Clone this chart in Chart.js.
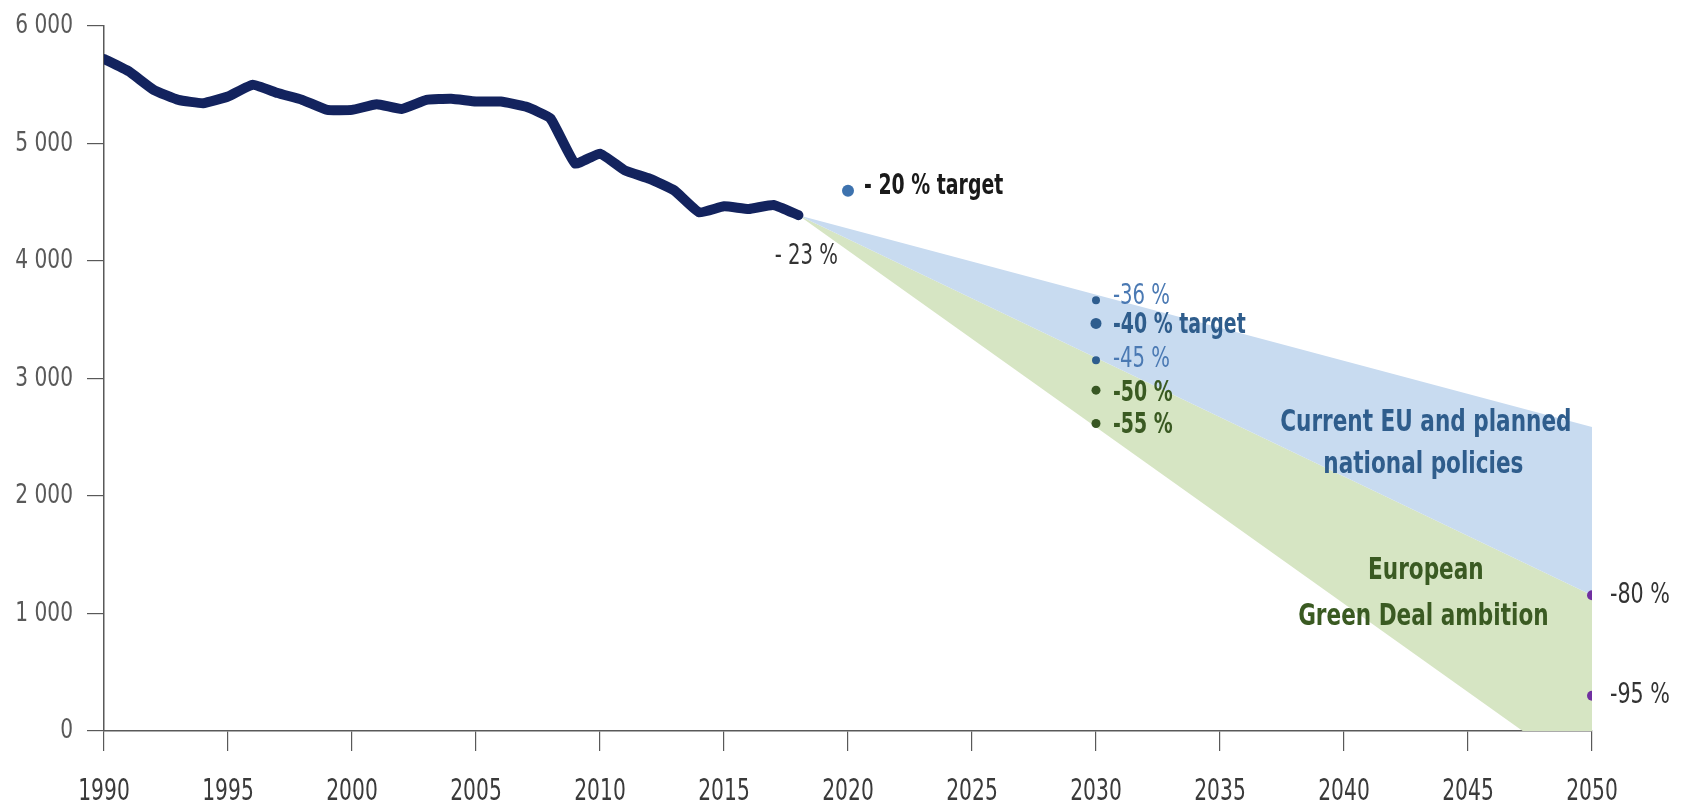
<!DOCTYPE html>
<html>
<head>
<meta charset="utf-8">
<script src="https://cdn.jsdelivr.net/npm/chart.js@4/dist/chart.umd.min.js"></script>
<style>
    body { margin: 0; background: #fff; }
    #chart { display: block; }
</style>
</head>
<body>
<canvas id="chart" width="1684" height="810"></canvas>
<script>
// Historic emissions (Mt CO2-eq)
const years = [1990, 1991, 1992, 1993, 1994, 1995, 1996, 1997, 1998, 1999, 2000, 2001, 2002, 2003, 2004,
    2005, 2006, 2007, 2008, 2009, 2010, 2011, 2012, 2013, 2014, 2015, 2016, 2017, 2018];
const emissions = [5720, 5614, 5457, 5371, 5343, 5400, 5500, 5429, 5371, 5286, 5286, 5334, 5294, 5371, 5380,
    5357, 5357, 5314, 5214, 4829, 4914, 4771, 4700, 4600, 4414, 4466, 4443, 4477, 4390];

// Projection bands
const bandYears = [2018, 2050];
const upperBand = [4390, 2587];
const midBand = [4390, 1155];
const lowerBand = [4390, -420];

// Target markers
const targetYears = [2020, 2030, 2030, 2030, 2030, 2030, 2050, 2050];
const targetValues = [4598, 3667, 3469, 3156, 2901, 2617, 1155, 300];
const targetLabels = ['- 20 % target', '-36 %', '-40 % target', '-45 %', '-50 %', '-55 %', '-80 %', '-95 %'];

const xTicks = [1990, 1995, 2000, 2005, 2010, 2015, 2020, 2025, 2030, 2035, 2040, 2045, 2050];
const yTicks = [0, 1000, 2000, 3000, 4000, 5000, 6000];

// no narrow font installed, so text gets squeezed horizontally when drawn
const FONT = '"DejaVu Sans Condensed", "DejaVu Sans", sans-serif';
const BLUE_TXT = '#2f5d8c';
const LIGHT_BLUE_TXT = '#4a79b3';
const GREEN_TXT = '#3a5a22';

// styling per target marker
const targetStyle = [
    { color: '#3d72ae', r: 6, txt: '#1a1a1a', bold: true, dx: 16, dy: -4, sx: 0.75 },
    { color: '#2e5d8e', r: 4, txt: LIGHT_BLUE_TXT, bold: false, dx: 17, dy: -3, sx: 0.78 },
    { color: '#2e5d8e', r: 5.5, txt: BLUE_TXT, bold: true, dx: 17, dy: 2, sx: 0.75 },
    { color: '#2e5d8e', r: 4, txt: LIGHT_BLUE_TXT, bold: false, dx: 17, dy: 0, sx: 0.78 },
    { color: '#385723', r: 4.5, txt: GREEN_TXT, bold: true, dx: 17, dy: 4, sx: 0.75 },
    { color: '#385723', r: 4.5, txt: GREEN_TXT, bold: true, dx: 17, dy: 2, sx: 0.75 },
    { color: '#7030a0', r: 5, txt: '#333', bold: false, dx: 18, dy: 0, sx: 0.82 },
    { color: '#7030a0', r: 5, txt: '#333', bold: false, dx: 18, dy: 0, sx: 0.82 }
];

// band captions, placed in data coordinates
const bandNotes = [
    { text: 'Current EU and planned', x: 2043.3, y: 2620, color: BLUE_TXT },
    { text: 'national policies', x: 2043.2, y: 2262, color: BLUE_TXT },
    { text: 'European', x: 2043.3, y: 1363, color: GREEN_TXT },
    { text: 'Green Deal ambition', x: 2043.2, y: 965, color: GREEN_TXT }
];

const toPoints = (xs, ys) => xs.map((x, i) => ({ x: x, y: ys[i] }));

function squeezeText(ctx, text, px, py, align, sx) {
    ctx.save();
    ctx.translate(px, py);
    ctx.scale(sx, 1);
    ctx.textAlign = align;
    ctx.fillText(text, 0, 0);
    ctx.restore();
}

const labelPlugin = {
    id: 'labelPlugin',
    afterDraw(chart) {
        const { ctx, scales: { x, y } } = chart;
        ctx.save();
        ctx.textBaseline = 'middle';

        // axis labels
        ctx.font = '27px ' + FONT;
        ctx.fillStyle = '#595959';
        yTicks.forEach(v => {
            const txt = v === 0 ? '0' : (v / 1000) + ' 000';
            squeezeText(ctx, txt, 73, y.getPixelForValue(v), 'right', 0.83);
        });
        ctx.font = '30px ' + FONT;
        ctx.fillStyle = '#3a3a3a';
        xTicks.forEach(v => {
            squeezeText(ctx, String(v), x.getPixelForValue(v), 792, 'center', 0.75);
        });

        // -23 % next to the end of the historic line
        const lastIdx = years.length - 1;
        ctx.font = '28px ' + FONT;
        ctx.fillStyle = '#333';
        squeezeText(ctx, '- 23 %', x.getPixelForValue(years[lastIdx]) + 8, y.getPixelForValue(emissions[lastIdx]) + 42, 'center', 0.78);

        targetLabels.forEach((label, i) => {
            const s = targetStyle[i];
            ctx.font = (s.bold ? 'bold ' : '') + '28px ' + FONT;
            ctx.fillStyle = s.txt;
            squeezeText(ctx, label, x.getPixelForValue(targetYears[i]) + s.dx, y.getPixelForValue(targetValues[i]) + s.dy, 'left', s.sx);
        });

        ctx.font = 'bold 30px ' + FONT;
        bandNotes.forEach(n => {
            ctx.fillStyle = n.color;
            squeezeText(ctx, n.text, x.getPixelForValue(n.x), y.getPixelForValue(n.y), 'center', 0.8);
        });
        ctx.restore();
    }
};

new Chart(document.getElementById('chart'), {
    type: 'line',
    data: {
        datasets: [
            {
                label: 'Targets',
                data: toPoints(targetYears, targetValues),
                showLine: false,
                pointRadius: targetStyle.map(s => s.r),
                pointBackgroundColor: targetStyle.map(s => s.color),
                pointBorderWidth: 0,
                order: 0
            },
            {
                label: 'Emissions',
                data: toPoints(years, emissions),
                borderColor: '#13235e',
                borderWidth: 10,
                borderCapStyle: 'round',
                borderJoinStyle: 'round',
                tension: 0.12,
                pointRadius: 0,
                fill: false,
                order: 1
            },
            {
                label: 'mid',
                data: toPoints(bandYears, midBand),
                borderWidth: 0,
                pointRadius: 0,
                fill: false,
                order: 2
            },
            {
                label: 'Current EU and planned national policies',
                data: toPoints(bandYears, upperBand),
                borderWidth: 0,
                pointRadius: 0,
                backgroundColor: '#c8dbf0',
                fill: 2,
                order: 3
            },
            {
                label: 'European Green Deal ambition',
                data: toPoints(bandYears, lowerBand),
                borderWidth: 0,
                pointRadius: 0,
                backgroundColor: '#d6e5c3',
                fill: 2,
                order: 4
            }
        ]
    },
    options: {
        responsive: false,
        animation: false,
        layout: { padding: { top: 26, right: 92, left: 0, bottom: 0 } },
        plugins: {
            legend: { display: false },
            tooltip: { enabled: false }
        },
        scales: {
            x: {
                type: 'linear',
                min: 1990,
                max: 2050,
                afterFit: s => { s.height = 79; },
                afterBuildTicks: s => { s.ticks = xTicks.map(v => ({ value: v })); },
                grid: { drawOnChartArea: false, drawTicks: true, tickLength: 20, color: '#595959', lineWidth: 1.2 },
                border: { color: '#595959', width: 1.5 },
                ticks: { display: false }
            },
            y: {
                min: 0,
                max: 6000,
                afterFit: s => { s.width = 104; },
                afterBuildTicks: s => { s.ticks = yTicks.map(v => ({ value: v })); },
                grid: { drawOnChartArea: false, drawTicks: true, tickLength: 17, color: '#595959', lineWidth: 1.2 },
                border: { color: '#595959', width: 1.5 },
                ticks: { display: false }
            }
        }
    },
    plugins: [labelPlugin]
});
</script>
</body>
</html>
